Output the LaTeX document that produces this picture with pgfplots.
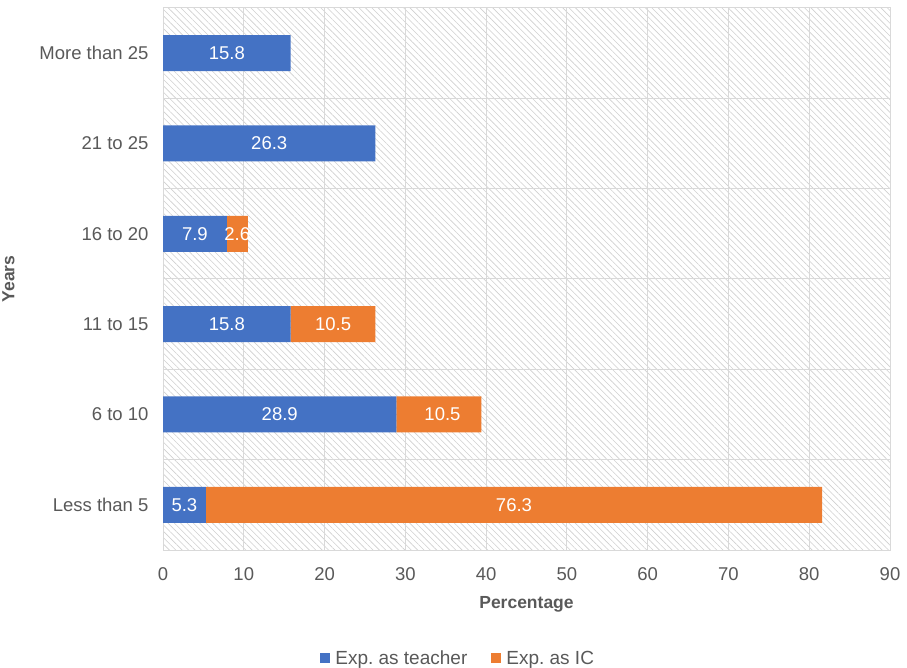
\documentclass[border=0pt]{standalone}
\usepackage{pgfplots}
\pgfplotsset{compat=1.18}
\usepackage{fontspec}
\setmainfont{Liberation Sans}
\frenchspacing
\usetikzlibrary{patterns.meta}
\definecolor{cblue}{HTML}{4472C4}
\definecolor{corange}{HTML}{ED7D31}
\definecolor{tickgray}{HTML}{595959}
\definecolor{gridgray}{HTML}{D9D9D9}
\definecolor{hatchgray}{HTML}{CFCFCF}
\begin{document}
\begin{tikzpicture}[x=1pt,y=1pt]
\begin{axis}[
  name=ax,
  at={(0,0)}, anchor=south west,
  scale only axis,
  width=727pt, height=542pt,
  xbar stacked,
  bar width=36pt,
  xmin=0, xmax=90,
  ymin=-0.5, ymax=5.5,
  xtick={0,10,...,90},
  ytick={0,1,2,3,4,5},
  yticklabels={Less than 5,6 to 10,11 to 15,16 to 20,21 to 25,More than 25},
  minor ytick={-0.5,0.5,1.5,2.5,3.5,4.5,5.5},
  xmajorgrids, yminorgrids,
  major grid style={draw=gridgray, line width=1pt},
  minor grid style={draw=gridgray, line width=1pt},
  axis line style={draw=gridgray, line width=1pt},
  tick style={draw=none},
  major tick length=0pt, minor tick length=0pt,
  tick label style={font=\fontsize{18.5}{20}\selectfont, text=tickgray},
  /pgf/number format/assume math mode=true,
  xticklabel style={yshift=-14pt},
  yticklabel style={xshift=-11pt},
  xlabel={\textbf{Percentage}},
  ylabel={\textbf{Years}},
  label style={font=\fontsize{17.5}{20}\selectfont, text=tickgray},
  xlabel style={yshift=-9pt},
  ylabel style={yshift=18pt},
  axis background/.style={pattern={Lines[angle=-45,distance=4.5pt,line width=0.6pt]}, pattern color=hatchgray},
  legend style={at={(0.406,-0.178)}, anchor=north, draw=none, legend columns=2,
    font=\fontsize{19}{21}\selectfont, text=tickgray,
    /tikz/every odd column/.append style={column sep=3pt},
    /tikz/every even column/.append style={column sep=22pt}},
  legend image code/.code={\fill[#1] (0pt,-5pt) rectangle (10pt,5pt);},
]
\addplot[fill=cblue, draw=none] coordinates {(5.3,0) (28.9,1) (15.8,2) (7.9,3) (26.3,4) (15.8,5)};
\addlegendentry{Exp. as teacher}
\addplot[fill=corange, draw=none] coordinates {(76.3,0) (10.5,1) (10.5,2) (2.6,3) (0,4) (0,5)};
\addlegendentry{Exp. as IC}
\end{axis}
\begin{axis}[
  at={(0,0)}, anchor=south west,
  scale only axis,
  width=727pt, height=542pt,
  xmin=0, xmax=90,
  ymin=-0.5, ymax=5.5,
  hide axis,
]
\addplot[draw=none, mark=none, nodes near coords, point meta=explicit symbolic,
  every node near coord/.style={anchor=center, text=white, font=\fontsize{18.5}{20}\selectfont}]
  table[meta=label] {
x y label
2.65 0 5.3
43.45 0 76.3
14.45 1 28.9
34.6 1 10.5
7.9 2 15.8
21.05 2 10.5
3.95 3 7.9
9.2 3 2.6
13.15 4 26.3
7.9 5 15.8
};
\end{axis}
\pgfresetboundingbox
\path ([xshift=-163pt,yshift=-117pt]ax.south west) rectangle ([xshift=17pt,yshift=8pt]ax.north east);
\end{tikzpicture}
\end{document}
